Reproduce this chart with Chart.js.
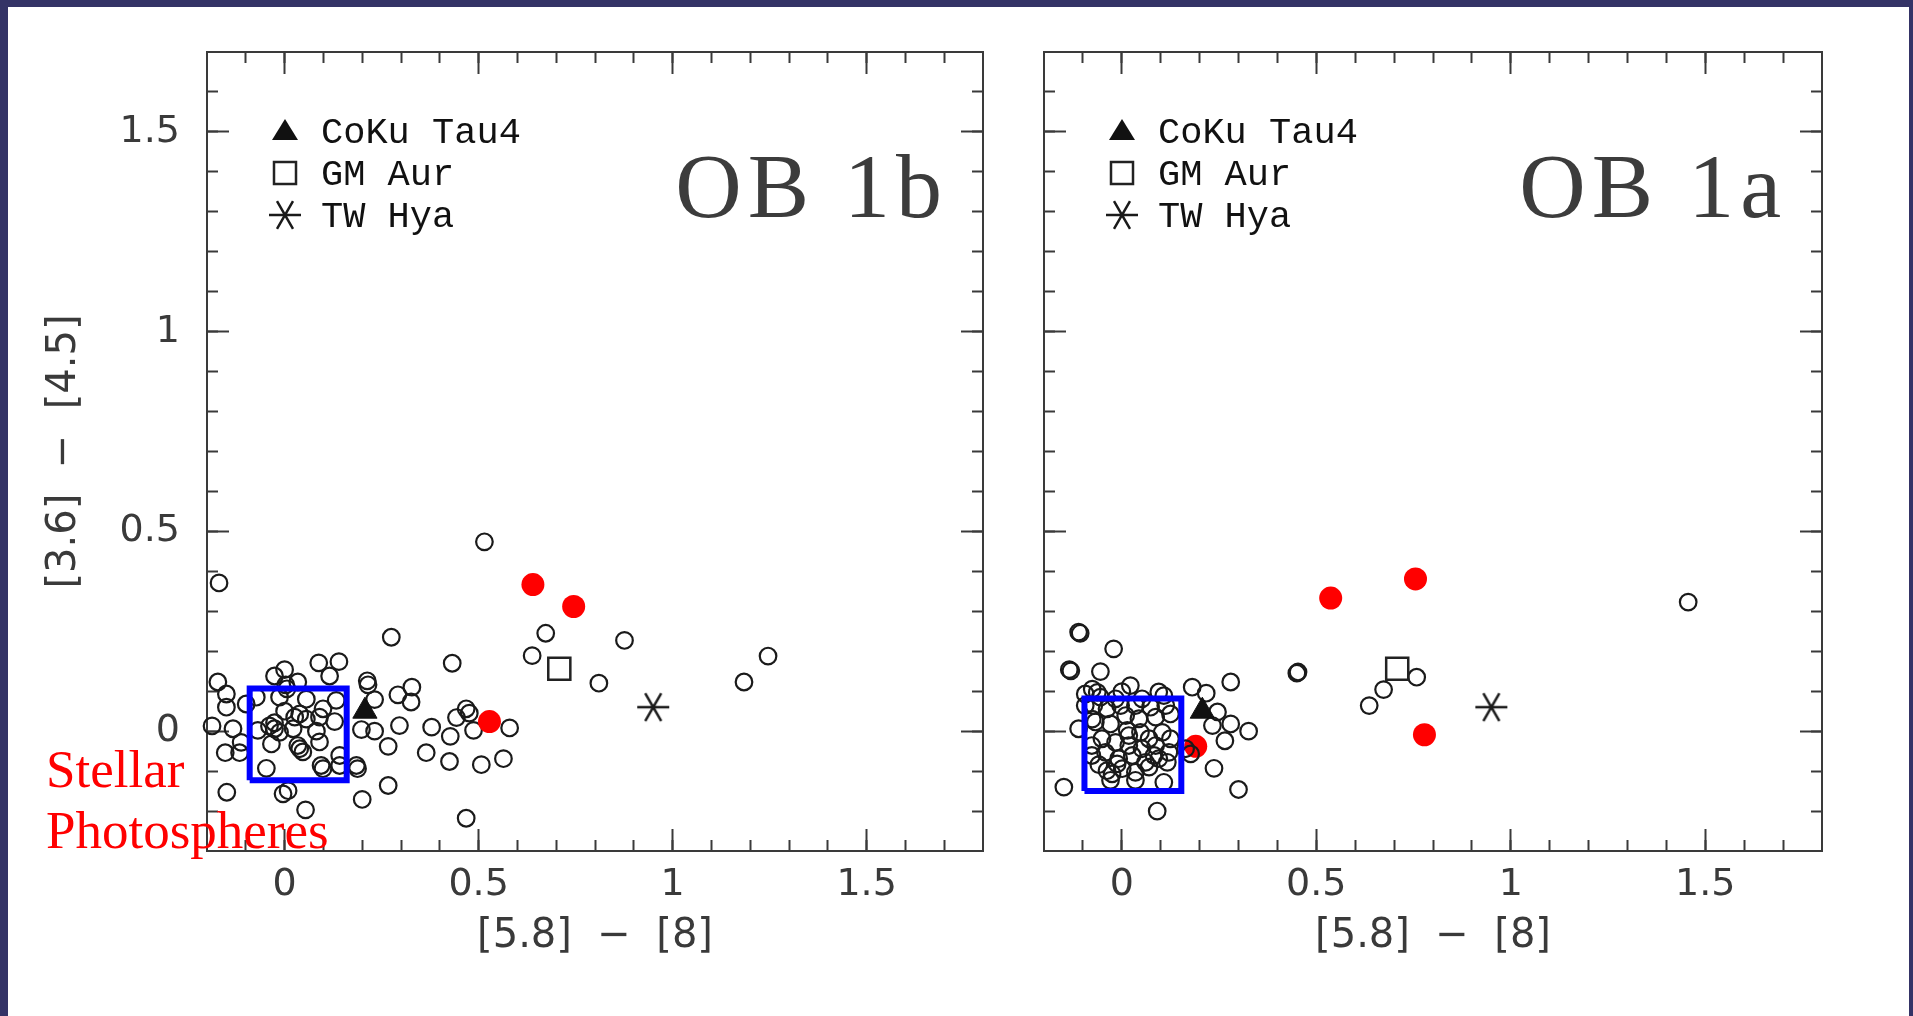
<!DOCTYPE html>
<html>
<head>
<meta charset="utf-8">
<title>[5.8]-[8] vs [3.6]-[4.5]: OB 1b and OB 1a</title>
<script src="https://cdn.jsdelivr.net/npm/chart.js@4.4.1/dist/chart.umd.min.js"></script>
<style>
  html, body { margin: 0; padding: 0; width: 1913px; height: 1016px; overflow: hidden; background: #343366; }
  #sheet { position: absolute; left: 8px; top: 7px; width: 1901px; height: 1009px; background: #fff; }
  #ob1b { position: absolute; left: 0; top: 0; }
  #ob1a { position: absolute; left: 1000px; top: 0; }
</style>
</head>
<body>
<div id="sheet">
  <canvas id="ob1b" width="1000" height="1009"></canvas>
  <canvas id="ob1a" width="901" height="1009"></canvas>
</div>
<script>
// OB 1b members ([5.8]-[8], [3.6]-[4.5])
const ob1bX = [0.515, -0.169, 0.673, 0.638, 0.275, 0.432, 0.810, 0.876, 1.184, 1.246,
  0.580, 0.468, 0.476, 0.443, 0.487, 0.507, 0.564, 0.468, 0.427, 0.425,
  0.379, 0.365, 0.296, 0.267, 0.267, 0.200, 0.328, 0.292, 0.326, 0.213,
  0.215, 0.232, 0.198, 0.232, 0.188, 0.185, 0.140, 0.088, 0.116, 0.000,
  -0.026, -0.172, -0.150, -0.150, -0.099, -0.187, -0.133, -0.112, -0.153, -0.116,
  -0.149, 0.009, -0.004, 0.054, -0.069, -0.047, -0.034, -0.026, -0.013, 0.026,
  0.039, 0.056, 0.022, 0.090, 0.099, 0.129, 0.133, 0.056, 0.082, 0.034,
  0.047, 0.039, 0.090, 0.094, 0.099, 0.142, 0.142, -0.013, 0.006, -0.073,
  -0.039, -0.026, 0.000, 0.034, 0.003];
const ob1bY = [0.474, 0.371, 0.245, 0.189, 0.235, 0.170, 0.120, 0.227, 0.123, 0.188,
  0.008, 0.056, 0.045, 0.034, 0.002, -0.084, -0.069, -0.218, -0.013, -0.076,
  0.010, -0.054, 0.014, -0.038, -0.136, -0.171, 0.110, 0.091, 0.073, 0.126,
  0.116, 0.079, 0.004, 0.000, -0.094, -0.086, 0.174, 0.171, 0.138, 0.154,
  0.138, 0.123, 0.093, 0.060, 0.068, 0.013, 0.006, -0.028, -0.054, -0.054,
  -0.153, -0.149, -0.157, -0.197, 0.002, -0.093, -0.032, 0.006, 0.085, 0.035,
  0.043, 0.030, 0.006, 0.035, 0.056, 0.024, 0.077, 0.080, 0.000, -0.036,
  -0.052, -0.044, -0.027, -0.086, -0.094, -0.061, -0.086, -0.003, 0.106, 0.085,
  0.013, 0.021, 0.050, 0.123, 0.116];
const ob1bDiskX = [0.640, 0.745, 0.528];
const ob1bDiskY = [0.367, 0.312, 0.024];

// OB 1a members
const ob1aX = [-0.111, -0.107, -0.021, -0.135, -0.131, -0.055, 0.022, -0.076, -0.063, 0.000,
  0.108, 0.181, 0.217, 0.280, 0.246, 0.280, 0.233, 0.326, 0.265, 0.237,
  0.300, -0.149, 0.091, -0.111, -0.076, -0.094, 0.177, 0.164, 0.453, 0.450,
  0.758, 0.673, 0.636, 1.456, -0.072, -0.038, -0.003, 0.035, 0.074, 0.113,
  -0.068, -0.029, 0.010, 0.044, 0.087, 0.125, 0.014, 0.048, 0.070, 0.104,
  0.125, -0.051, -0.016, 0.018, 0.052, 0.087, 0.121, -0.077, -0.042, -0.008,
  0.027, 0.061, 0.095, 0.117, -0.038, 0.001, 0.035, 0.070, -0.025, 0.108,
  0.035, -0.012, -0.077, -0.059, 0.018, 0.083, 0.052, -0.016, 0.095, -0.055,
  -0.094, -0.029];
const ob1aY = [0.248, 0.245, 0.206, 0.154, 0.151, 0.149, 0.114, 0.105, 0.097, 0.099,
  0.089, 0.110, 0.095, 0.123, 0.048, 0.018, 0.014, 0.000, -0.024, -0.093,
  -0.146, -0.140, -0.200, 0.006, 0.030, 0.064, -0.057, -0.044, 0.148, 0.145,
  0.135, 0.104, 0.064, 0.323, 0.064, 0.056, 0.064, 0.064, 0.060, 0.064,
  0.023, 0.018, 0.039, 0.031, 0.035, 0.043, 0.002, -0.003, -0.019, -0.003,
  -0.019, -0.019, -0.028, -0.036, -0.044, -0.036, -0.053, -0.061, -0.053, -0.069,
  -0.061, -0.078, -0.069, -0.078, -0.099, -0.094, -0.103, -0.090, -0.107, -0.128,
  -0.123, -0.082, -0.036, -0.084, -0.011, -0.061, 0.081, 0.081, 0.098, 0.085,
  0.093, -0.123];
const ob1aDiskX = [0.537, 0.755, 0.778, 0.190];
const ob1aDiskY = [0.333, 0.381, -0.009, -0.038];

// comparison transitional discs, same in both panels
const refNames = ['CoKu Tau4', 'GM Aur', 'TW Hya'];
const refX = [0.207, 0.708, 0.950];
const refY = [0.050, 0.156, 0.060];

// photosphere boxes
const ob1bBoxX = [-0.090, 0.160, 0.160, -0.090, -0.090];
const ob1bBoxY = [-0.123, -0.123, 0.107, 0.107, -0.123];
const ob1aBoxX = [-0.096, 0.153, 0.153, -0.096, -0.096];
const ob1aBoxY = [-0.150, -0.150, 0.082, 0.082, -0.150];

const xMajorTicks = [0, 0.5, 1, 1.5];
const xMinorTicks = [-0.1, 0, 0.1, 0.2, 0.3, 0.4, 0.5, 0.6, 0.7, 0.8, 0.9, 1, 1.1, 1.2, 1.3, 1.4, 1.5, 1.6, 1.7];
const yMajorTicks = [0, 0.5, 1, 1.5];
const yMinorTicks = [-0.2, -0.1, 0, 0.1, 0.2, 0.3, 0.4, 0.5, 0.6, 0.7, 0.8, 0.9, 1, 1.1, 1.2, 1.3, 1.4, 1.5, 1.6];

const xTitle = '[5.8]  \u2212  [8]';
const yTitle = '[3.6]  \u2212  [4.5]';

const ink = '#3a3a3a';
const pts = (xs, ys) => xs.map((x, i) => ({ x, y: ys[i] }));

// six-armed asterisk used for TW Hya
const starImage = document.createElement('canvas');
starImage.width = 36;
starImage.height = 34;
(() => {
  const c = starImage.getContext('2d');
  c.strokeStyle = '#1a1a1a';
  c.lineWidth = 2.5;
  c.beginPath();
  [0, Math.PI / 3, 2 * Math.PI / 3].forEach(a => {
    const dx = Math.cos(a) * 16, dy = Math.sin(a) * 16;
    c.moveTo(18 - dx, 17 - dy);
    c.lineTo(18 + dx, 17 + dy);
  });
  c.stroke();
})();

function drawGlyph(ctx, i, x, y) {
  ctx.fillStyle = '#111';
  ctx.strokeStyle = '#222';
  ctx.lineWidth = 2.5;
  if (i === 0) {
    ctx.beginPath();
    ctx.moveTo(x, y - 12);
    ctx.lineTo(x + 13, y + 9);
    ctx.lineTo(x - 13, y + 9);
    ctx.closePath();
    ctx.fill();
  } else if (i === 1) {
    ctx.strokeRect(x - 11, y - 11, 22, 22);
  } else {
    ctx.drawImage(starImage, x - starImage.width / 2, y - starImage.height / 2);
  }
}

// legend, panel name and the photosphere note
const panelNotes = {
  id: 'panelNotes',
  afterDraw(chart, args, opts) {
    const { ctx, chartArea: a } = chart;
    ctx.save();
    refNames.forEach((name, i) => {
      const gy = a.top + 79 + i * 42;
      drawGlyph(ctx, i, a.left + 78, gy);
      ctx.font = '37px "Liberation Mono"';
      ctx.fillStyle = '#111';
      ctx.textAlign = 'left';
      ctx.textBaseline = 'alphabetic';
      ctx.fillText(name, a.left + 114, gy + 12);
    });

    ctx.font = '92px "Liberation Serif"';
    ctx.fillStyle = '#3c3c3c';
    ctx.textAlign = 'right';
    ctx.letterSpacing = '6px';
    ctx.fillText(opts.name, a.right - 35, a.top + 165);
    ctx.letterSpacing = '0px';

    if (opts.note) {
      ctx.font = '53px "Liberation Serif"';
      ctx.fillStyle = '#ff0000';
      ctx.textAlign = 'left';
      ctx.fillText(opts.note[0], a.left - 161, a.bottom - 64);
      ctx.fillText(opts.note[1], a.left - 161, a.bottom - 3);
    }
    ctx.restore();
  }
};

// keep label overhang from pushing the plot frame around
function noOverhang(scale) {
  scale.paddingTop = 0;
  scale.paddingBottom = 0;
  scale.paddingLeft = 0;
  scale.paddingRight = 0;
}

function scalesFor(labelled, leftWidth) {
  const tickFont = { family: 'DejaVu Sans', size: 38 };
  const titleFont = { family: 'DejaVu Sans', size: 40 };
  const border = { display: true, color: ink, width: 2 };
  const grid = len => ({ drawOnChartArea: false, drawTicks: true, tickLength: len, tickWidth: 2, tickColor: ink });
  const useTicks = values => scale => { scale.ticks = values.map(v => ({ value: v })); };
  const flat = scale => {
    if (scale.isHorizontal()) scale.height = 0; else scale.width = 0;
    noOverhang(scale);
  };
  const hidden = { display: false };
  const xRange = { type: 'linear', min: -0.2, max: 1.8 };
  const yRange = { type: 'linear', min: -0.3, max: 1.7 };

  return {
    x: {
      ...xRange, axis: 'x', position: 'bottom', weight: 1,
      afterBuildTicks: useTicks(xMajorTicks),
      afterFit: s => { s.height = 165; noOverhang(s); },
      grid: grid(-22), border,
      ticks: { padding: 33, font: tickFont, color: ink, autoSkip: false, maxRotation: 0, callback: v => String(v) },
      title: { display: true, text: xTitle, font: titleFont, color: ink, padding: { top: 0, bottom: 55 } }
    },
    xMinor: {
      ...xRange, axis: 'x', position: 'bottom', weight: 0,
      afterBuildTicks: useTicks(xMinorTicks), afterFit: flat,
      grid: grid(-11), border, ticks: hidden
    },
    xTop: {
      ...xRange, axis: 'x', position: 'top', weight: 1,
      afterBuildTicks: useTicks(xMajorTicks), afterFit: flat,
      grid: grid(-22), border, ticks: hidden
    },
    xTopMinor: {
      ...xRange, axis: 'x', position: 'top', weight: 0,
      afterBuildTicks: useTicks(xMinorTicks), afterFit: flat,
      grid: grid(-11), border, ticks: hidden
    },
    y: {
      ...yRange, axis: 'y', position: 'left', weight: 1,
      afterBuildTicks: useTicks(yMajorTicks),
      afterFit: s => { s.width = leftWidth; noOverhang(s); },
      grid: grid(-22), border,
      ticks: { display: labelled, padding: 49, font: tickFont, color: ink, autoSkip: false, callback: v => String(v) },
      title: { display: labelled, text: yTitle, font: titleFont, color: ink, padding: { top: 33, bottom: 0 } }
    },
    yMinor: {
      ...yRange, axis: 'y', position: 'left', weight: 0,
      afterBuildTicks: useTicks(yMinorTicks), afterFit: flat,
      grid: grid(-11), border, ticks: hidden
    },
    yRight: {
      ...yRange, axis: 'y', position: 'right', weight: 1,
      afterBuildTicks: useTicks(yMajorTicks), afterFit: flat,
      grid: grid(-22), border, ticks: hidden
    },
    yRightMinor: {
      ...yRange, axis: 'y', position: 'right', weight: 0,
      afterBuildTicks: useTicks(yMinorTicks), afterFit: flat,
      grid: grid(-11), border, ticks: hidden
    }
  };
}

function makeDatasets(cfg) {
  const box = {
    label: 'box', data: pts(cfg.boxX, cfg.boxY), showLine: true,
    borderColor: '#0000ff', borderWidth: 6, borderJoinStyle: 'miter', pointRadius: 0, clip: false
  };
  const disks = {
    label: 'disks', data: pts(cfg.diskX, cfg.diskY),
    pointRadius: 11.5, pointBackgroundColor: '#ff0000', pointBorderColor: '#ff0000', pointBorderWidth: 0, clip: false
  };
  const members = {
    label: 'members', data: pts(cfg.x, cfg.y),
    pointRadius: 8.3, pointBackgroundColor: 'rgba(0,0,0,0)', pointBorderColor: '#1a1a1a', pointBorderWidth: 2.2, clip: false
  };
  const refs = [
    { pointStyle: 'triangle', pointRadius: 14, pointBackgroundColor: '#111', pointBorderColor: '#111', pointBorderWidth: 1 },
    { pointStyle: 'rect', pointRadius: 15.6, pointBackgroundColor: 'rgba(0,0,0,0)', pointBorderColor: '#222', pointBorderWidth: 2.5 },
    { pointStyle: starImage, pointRadius: 16, pointBorderWidth: 0 }
  ].map((style, i) => ({ label: refNames[i], data: [{ x: refX[i], y: refY[i] }], clip: false, ...style }));

  // the first dataset is painted last
  return cfg.disksOnTop ? [box, disks, ...refs, members] : [box, ...refs, members, disks];
}

function makeChart(id, cfg) {
  return new Chart(document.getElementById(id), {
    type: 'scatter',
    data: { datasets: makeDatasets(cfg) },
    options: {
      responsive: false,
      animation: false,
      devicePixelRatio: 1,
      events: [],
      layout: { padding: cfg.padding },
      scales: scalesFor(cfg.labelled, cfg.leftWidth),
      plugins: {
        legend: { display: false },
        tooltip: { enabled: false },
        panelNotes: { name: cfg.name, note: cfg.note }
      }
    },
    plugins: [panelNotes]
  });
}

makeChart('ob1b', {
  x: ob1bX, y: ob1bY, diskX: ob1bDiskX, diskY: ob1bDiskY,
  boxX: ob1bBoxX, boxY: ob1bBoxY, disksOnTop: true,
  labelled: true, leftWidth: 199,
  padding: { top: 45, right: 25, left: 0, bottom: 0 },
  name: 'OB 1b', note: ['Stellar', 'Photospheres']
});

makeChart('ob1a', {
  x: ob1aX, y: ob1aY, diskX: ob1aDiskX, diskY: ob1aDiskY,
  boxX: ob1aBoxX, boxY: ob1aBoxY, disksOnTop: false,
  labelled: false, leftWidth: 36,
  padding: { top: 45, right: 87, left: 0, bottom: 0 },
  name: 'OB 1a', note: null
});
</script>
</body>
</html>
